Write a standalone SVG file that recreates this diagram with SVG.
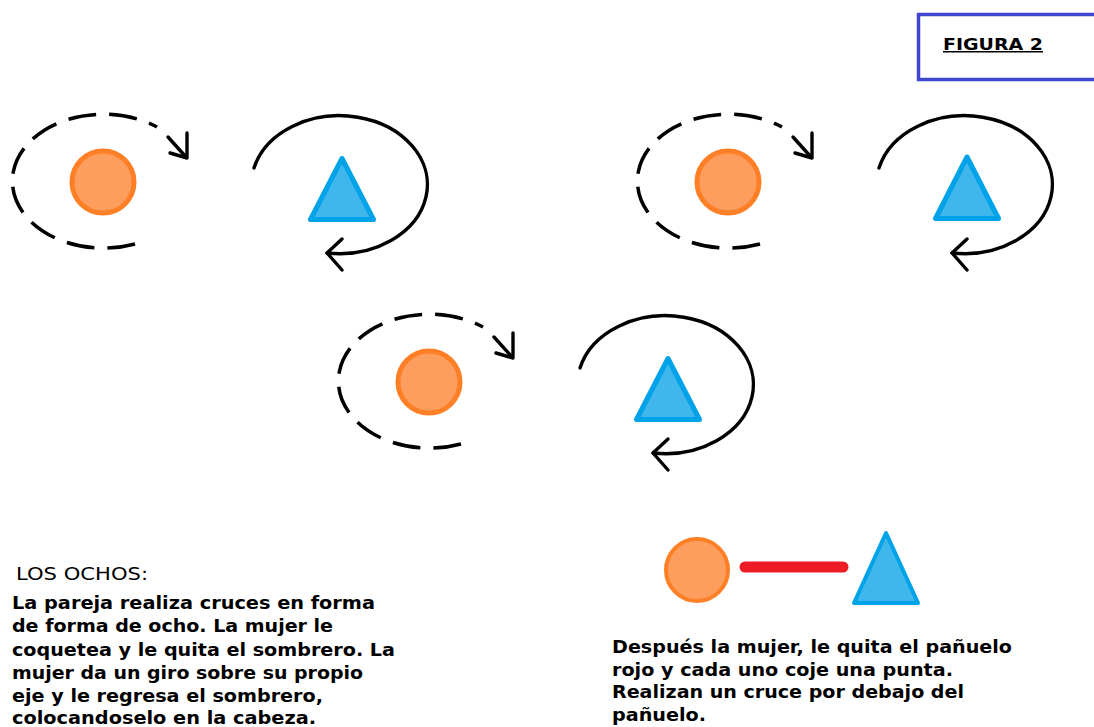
<svg xmlns="http://www.w3.org/2000/svg" width="1094" height="727" viewBox="0 0 1094 727">
<defs>
<style>
.man{fill:#FE9E5E;stroke:#FF7F27;stroke-width:5}
.wom{fill:#40B7EC;stroke:#00A2E8;stroke-width:5;stroke-linejoin:round}
.dash{fill:none;stroke:#000;stroke-width:3.5;stroke-dasharray:28 13}
.solid{fill:none;stroke:#000;stroke-width:3.4;stroke-linecap:round;stroke-linejoin:round}
.t{font-family:"DejaVu Sans","Verdana",sans-serif;font-size:18px;font-weight:bold;fill:#000}
</style>
<g id="loopL">
<path class="dash" d="M135,244 A91,67 0 1 1 157,127"/>
<path class="solid" d="M168,137 L186,157"/>
<polyline class="solid" points="187,133 187,158 170,153"/>
</g>
<g id="loopR">
<path class="solid" d="M254,168 A88,69 0 1 1 327,253"/>
<polyline class="solid" points="342,239 327,253 342,270"/>
</g>
</defs>
<rect width="1094" height="727" fill="#fff"/>

<g id="title">
<rect x="918.5" y="14.5" width="190" height="65" fill="none" stroke="#3F48CC" stroke-width="3.5"/>
<text class="t" x="943" y="50" text-decoration="underline" textLength="100" lengthAdjust="spacingAndGlyphs" style="font-size:15px">FIGURA 2</text>
</g>

<g id="connectors">
<use href="#loopL"/>
<use href="#loopR"/>
<use href="#loopL" transform="translate(625,0)"/>
<use href="#loopR" transform="translate(625,0)"/>
<use href="#loopL" transform="translate(326,200)"/>
<use href="#loopR" transform="translate(326,200)"/>
<line x1="745" y1="567" x2="843" y2="567" stroke="#ED1C24" stroke-width="11" stroke-linecap="round"/>
</g>

<g id="hombre1"><circle class="man" cx="103" cy="182" r="31"/></g>
<g id="mujer1"><polygon class="wom" points="342,158.5 310.5,219.5 373.5,219.5"/></g>
<g id="hombre2"><circle class="man" cx="728" cy="182" r="31"/></g>
<g id="mujer2"><polygon class="wom" points="967,157 935.5,218.5 998.5,218.5"/></g>
<g id="hombre3"><circle class="man" cx="429" cy="382" r="31"/></g>
<g id="mujer3"><polygon class="wom" points="668,358.5 636.5,419.5 699.5,419.5"/></g>
<g id="hombre4"><circle class="man" cx="697" cy="570" r="31" style="stroke-width:4"/></g>
<g id="mujer4"><polygon class="wom" points="886,533 854,603 918,603" style="stroke-width:4"/></g>

<g id="texto-izq">
<text class="t" x="16" y="580" style="font-weight:normal;font-size:17px" textLength="132" lengthAdjust="spacingAndGlyphs">LOS OCHOS:</text>
<text class="t" x="12" y="609" textLength="363" lengthAdjust="spacingAndGlyphs">La pareja realiza cruces en forma</text>
<text class="t" x="12" y="632" textLength="321" lengthAdjust="spacingAndGlyphs">de forma de ocho. La mujer le</text>
<text class="t" x="12" y="656" textLength="383" lengthAdjust="spacingAndGlyphs">coquetea y le quita el sombrero. La</text>
<text class="t" x="12" y="679" textLength="351" lengthAdjust="spacingAndGlyphs">mujer da un giro sobre su propio</text>
<text class="t" x="12" y="702" textLength="311" lengthAdjust="spacingAndGlyphs">eje y le regresa el sombrero,</text>
<text class="t" x="12" y="724" textLength="304" lengthAdjust="spacingAndGlyphs">colocandoselo en la cabeza.</text>
</g>

<g id="texto-der">
<text class="t" x="612" y="653" textLength="400" lengthAdjust="spacingAndGlyphs">Después la mujer, le quita el pañuelo</text>
<text class="t" x="612" y="676" textLength="341" lengthAdjust="spacingAndGlyphs">rojo y cada uno coje una punta.</text>
<text class="t" x="612" y="698" textLength="352" lengthAdjust="spacingAndGlyphs">Realizan un cruce por debajo del</text>
<text class="t" x="612" y="721" textLength="94" lengthAdjust="spacingAndGlyphs">pañuelo.</text>
</g>
</svg>
